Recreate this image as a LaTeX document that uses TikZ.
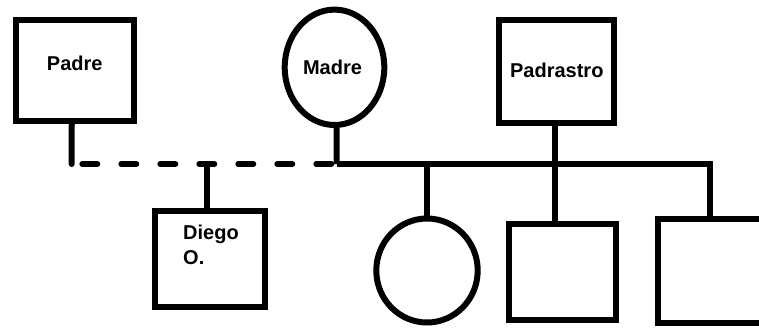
\documentclass[tikz,border=0pt]{standalone}
\usepackage{fontspec}
\setmainfont{Liberation Sans}
\usetikzlibrary{shapes.geometric}
\tikzset{
  person/.style={draw=black, line width=6pt, inner sep=0pt},
  male/.style={person, rectangle},
  female/.style={person, ellipse},
  txt/.style={font=\bfseries\fontsize{20}{25.5}\selectfont, text=black},
  link/.style={line width=6pt, draw=black},
  divorce/.style={link, line cap=round, dash pattern=on 15pt off 24pt, dash phase=28.4pt},
}
\begin{document}
\begin{tikzpicture}[x=1pt, y=-1pt]
  \useasboundingbox (0,0) rectangle (759,327);
  \clip (0,0) rectangle (759,327);
  % parents
  \node[male, minimum width=118.5pt, minimum height=101.5pt,
        label={[txt, yshift=7pt]center:Padre}] (Padre) at (74.75,70.25) {};
  \node[female, minimum width=99.6pt, minimum height=115.4pt,
        label={[txt, xshift=-2pt]center:Madre}] (Madre) at (334.5,67.3) {};
  \node[male, minimum width=115pt, minimum height=102.7pt,
        label={[txt, yshift=1.6pt]center:Padrastro}] (Padrastro) at (556.8,71.65) {};
  % children
  \node[male, minimum width=110.6pt, minimum height=95.7pt,
        label={[txt, anchor=north west, inner sep=0pt, align=left, xshift=31.3pt, yshift=-16.2pt]north west:Diego\\O.}] (Diego) at (210,259.2) {};
  \node[female, minimum width=101.4pt, minimum height=104pt] (Hija) at (427,270.5) {};
  \node[male, minimum width=106.7pt, minimum height=96.6pt] (Hijo1) at (562.65,272) {};
  \node[male, minimum width=110pt, minimum height=104pt] (Hijo2) at (713,270.7) {};
  % junction points on the couple line
  \coordinate (m1) at (71.7,164);
  \coordinate (m2) at (336.7,164);
  \coordinate (dj) at (207,164);
  \coordinate (hj) at (427.3,164);
  \coordinate (pj) at (555.2,164);
  \coordinate (r)  at (709.5,164);
  % connectors
  \draw[link, line cap=round] ([xshift=-3pt]Padre.south) -- (m1);
  \draw[divorce] (m1) -- (m2);
  \draw[link] ([xshift=2pt]Madre.south) -- (m2);
  \draw[link] (dj) -- (dj |- Diego.north);
  \draw[link, line join=miter] (m2) -- (r) -- (r |- Hijo2.north);
  \draw[link] (hj) -- (hj |- Hija.north);
  \draw[link] ([xshift=-1.6pt]Padrastro.south) -- (pj |- Hijo1.north);
\end{tikzpicture}
\end{document}
